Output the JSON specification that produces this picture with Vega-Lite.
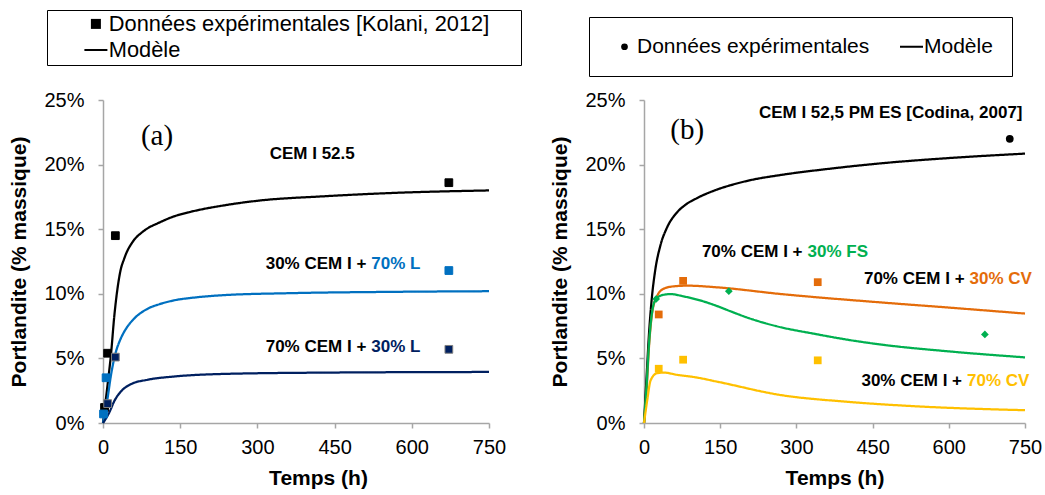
{
  "$schema": "https://vega.github.io/schema/vega-lite/v6.json",
  "background": "white",
  "padding": {"left": 8, "top": 9, "right": 5, "bottom": 2},
  "config": {
    "font": "Liberation Sans",
    "view": {"stroke": null},
    "axis": {"grid": false, "labelFlush": false, "domainColor": "#A6A6A6", "tickColor": "#A6A6A6", "domainWidth": 1.5, "tickWidth": 1.5, "tickSize": 5, "labelFont": "Liberation Sans", "labelFontSize": 20, "labelColor": "black", "titleFont": "Liberation Sans", "titleFontSize": 21, "titleFontWeight": "bold", "titleColor": "black"},
    "axisX": {"labelPadding": 9, "titlePadding": 10},
    "axisY": {"labelPadding": 14, "titlePadding": 14}
  },
  "datasets": {
    "curvesA": [
      {"s": "CEM I 52.5", "t": 0, "v": 0}, {"s": "CEM I 52.5", "t": 9, "v": 3.0}, {"s": "CEM I 52.5", "t": 15.5, "v": 5.3}, {"s": "CEM I 52.5", "t": 22, "v": 8.3}, {"s": "CEM I 52.5", "t": 28.5, "v": 10.5}, {"s": "CEM I 52.5", "t": 34, "v": 11.8}, {"s": "CEM I 52.5", "t": 41, "v": 12.7}, {"s": "CEM I 52.5", "t": 47, "v": 13.3}, {"s": "CEM I 52.5", "t": 54, "v": 13.8}, {"s": "CEM I 52.5", "t": 62, "v": 14.25}, {"s": "CEM I 52.5", "t": 74, "v": 14.7}, {"s": "CEM I 52.5", "t": 88, "v": 15.1}, {"s": "CEM I 52.5", "t": 106, "v": 15.45}, {"s": "CEM I 52.5", "t": 135, "v": 15.95}, {"s": "CEM I 52.5", "t": 171, "v": 16.35}, {"s": "CEM I 52.5", "t": 236, "v": 16.85}, {"s": "CEM I 52.5", "t": 300, "v": 17.2}, {"s": "CEM I 52.5", "t": 430, "v": 17.55}, {"s": "CEM I 52.5", "t": 559, "v": 17.8}, {"s": "CEM I 52.5", "t": 750, "v": 18.0},
      {"s": "70% L", "t": 0, "v": 0}, {"s": "70% L", "t": 9, "v": 1.95}, {"s": "70% L", "t": 15.5, "v": 3.7}, {"s": "70% L", "t": 25, "v": 5.5}, {"s": "70% L", "t": 33, "v": 6.4}, {"s": "70% L", "t": 41, "v": 7.05}, {"s": "70% L", "t": 50, "v": 7.6}, {"s": "70% L", "t": 61, "v": 8.1}, {"s": "70% L", "t": 87, "v": 8.85}, {"s": "70% L", "t": 110, "v": 9.2}, {"s": "70% L", "t": 139, "v": 9.5}, {"s": "70% L", "t": 180, "v": 9.72}, {"s": "70% L", "t": 236, "v": 9.9}, {"s": "70% L", "t": 365, "v": 10.05}, {"s": "70% L", "t": 559, "v": 10.15}, {"s": "70% L", "t": 750, "v": 10.2},
      {"s": "30% L", "t": 0, "v": 0}, {"s": "30% L", "t": 12, "v": 0.8}, {"s": "30% L", "t": 22, "v": 1.7}, {"s": "30% L", "t": 35, "v": 2.45}, {"s": "30% L", "t": 54, "v": 3.0}, {"s": "30% L", "t": 87, "v": 3.35}, {"s": "30% L", "t": 139, "v": 3.6}, {"s": "30% L", "t": 236, "v": 3.8}, {"s": "30% L", "t": 430, "v": 3.9}, {"s": "30% L", "t": 750, "v": 3.95}
    ],
    "ptsA": [
      {"s": "CEM I 52.5", "t": 3, "v": 1.2}, {"s": "CEM I 52.5", "t": 9, "v": 5.4}, {"s": "CEM I 52.5", "t": 24, "v": 14.5}, {"s": "CEM I 52.5", "t": 672, "v": 18.6},
      {"s": "70% L", "t": 1, "v": 0.7}, {"s": "70% L", "t": 6, "v": 3.5}, {"s": "70% L", "t": 672, "v": 11.8},
      {"s": "30% L", "t": 9, "v": 1.5}, {"s": "30% L", "t": 24, "v": 5.1}, {"s": "30% L", "t": 672, "v": 5.7}
    ],
    "annA": [
      {"t": 494, "v": 20.8, "pre": "CEM I 52.5", "post": "", "s": "CEM I 52.5"},
      {"t": 516.5, "v": 12.3, "pre": "30% CEM I +", "post": "70% L", "s": "70% L"},
      {"t": 516.5, "v": 5.9, "pre": "70% CEM I +", "post": "30% L", "s": "30% L"}
    ],
    "labA": [{"t": 105, "v": 22.2, "lab": "(a)"}],
    "curvesB": [
      {"s": "CEM I 52,5 PM ES", "t": 0, "v": 0}, {"s": "CEM I 52,5 PM ES", "t": 5, "v": 3.5}, {"s": "CEM I 52,5 PM ES", "t": 10, "v": 7.0}, {"s": "CEM I 52,5 PM ES", "t": 15, "v": 9.5}, {"s": "CEM I 52,5 PM ES", "t": 22, "v": 11.8}, {"s": "CEM I 52,5 PM ES", "t": 32, "v": 13.7}, {"s": "CEM I 52,5 PM ES", "t": 45, "v": 15.1}, {"s": "CEM I 52,5 PM ES", "t": 65, "v": 16.3}, {"s": "CEM I 52,5 PM ES", "t": 82, "v": 16.9}, {"s": "CEM I 52,5 PM ES", "t": 104, "v": 17.4}, {"s": "CEM I 52,5 PM ES", "t": 139, "v": 18.0}, {"s": "CEM I 52,5 PM ES", "t": 170, "v": 18.4}, {"s": "CEM I 52,5 PM ES", "t": 210, "v": 18.8}, {"s": "CEM I 52,5 PM ES", "t": 270, "v": 19.2}, {"s": "CEM I 52,5 PM ES", "t": 370, "v": 19.7}, {"s": "CEM I 52,5 PM ES", "t": 467, "v": 20.1}, {"s": "CEM I 52,5 PM ES", "t": 598, "v": 20.5}, {"s": "CEM I 52,5 PM ES", "t": 750, "v": 20.85},
      {"s": "30% CV", "t": 0, "v": 0}, {"s": "30% CV", "t": 5, "v": 2.5}, {"s": "30% CV", "t": 10, "v": 6.0}, {"s": "30% CV", "t": 16, "v": 8.5}, {"s": "30% CV", "t": 26, "v": 9.85}, {"s": "30% CV", "t": 39, "v": 10.4}, {"s": "30% CV", "t": 59, "v": 10.58}, {"s": "30% CV", "t": 85, "v": 10.63}, {"s": "30% CV", "t": 144, "v": 10.5}, {"s": "30% CV", "t": 270, "v": 9.98}, {"s": "30% CV", "t": 467, "v": 9.33}, {"s": "30% CV", "t": 598, "v": 8.94}, {"s": "30% CV", "t": 750, "v": 8.47},
      {"s": "30% FS", "t": 0, "v": 0}, {"s": "30% FS", "t": 5, "v": 2.8}, {"s": "30% FS", "t": 10, "v": 6.2}, {"s": "30% FS", "t": 16, "v": 8.6}, {"s": "30% FS", "t": 23, "v": 9.55}, {"s": "30% FS", "t": 36, "v": 9.9}, {"s": "30% FS", "t": 52, "v": 9.98}, {"s": "30% FS", "t": 78, "v": 9.8}, {"s": "30% FS", "t": 118, "v": 9.4}, {"s": "30% FS", "t": 144, "v": 9.05}, {"s": "30% FS", "t": 170, "v": 8.65}, {"s": "30% FS", "t": 204, "v": 8.15}, {"s": "30% FS", "t": 260, "v": 7.5}, {"s": "30% FS", "t": 336, "v": 6.9}, {"s": "30% FS", "t": 400, "v": 6.45}, {"s": "30% FS", "t": 467, "v": 6.07}, {"s": "30% FS", "t": 598, "v": 5.55}, {"s": "30% FS", "t": 750, "v": 5.08},
      {"s": "70% CV", "t": 0, "v": 0}, {"s": "70% CV", "t": 6.5, "v": 1.8}, {"s": "70% CV", "t": 13, "v": 3.3}, {"s": "70% CV", "t": 26, "v": 3.86}, {"s": "70% CV", "t": 39, "v": 3.9}, {"s": "70% CV", "t": 65, "v": 3.73}, {"s": "70% CV", "t": 104, "v": 3.52}, {"s": "70% CV", "t": 144, "v": 3.2}, {"s": "70% CV", "t": 270, "v": 2.16}, {"s": "70% CV", "t": 401, "v": 1.64}, {"s": "70% CV", "t": 532, "v": 1.3}, {"s": "70% CV", "t": 750, "v": 0.99}
    ],
    "ptsB": [
      {"s": "CEM I 52,5 PM ES", "t": 720, "v": 22.0},
      {"s": "30% CV", "t": 29, "v": 8.4}, {"s": "30% CV", "t": 77, "v": 11.0}, {"s": "30% CV", "t": 342, "v": 10.9},
      {"s": "70% CV", "t": 29, "v": 4.2}, {"s": "70% CV", "t": 77, "v": 4.9}, {"s": "70% CV", "t": 342, "v": 4.85},
      {"s": "30% FS", "t": 24, "v": 9.6}, {"s": "30% FS", "t": 167, "v": 10.2}, {"s": "30% FS", "t": 671, "v": 6.85}
    ],
    "annB": [
      {"t": 750, "v": 24.0, "pre": "CEM I 52,5 PM ES [Codina, 2007]", "post": "", "s": "CEM I 52,5 PM ES"},
      {"t": 317, "v": 13.2, "pre": "70% CEM I +", "post": "30% FS", "s": "30% FS"},
      {"t": 636, "v": 11.15, "pre": "70% CEM I +", "post": "30% CV", "s": "30% CV"},
      {"t": 631, "v": 3.26, "pre": "30% CEM I +", "post": "70% CV", "s": "70% CV"}
    ],
    "labB": [{"t": 85, "v": 22.7, "lab": "(b)"}]
  },
  "spacing": 155,
  "bounds": "flush",
  "resolve": {
    "scale": {"x": "independent", "y": "independent", "color": "independent", "stroke": "independent", "shape": "independent", "strokeDash": "independent"},
    "legend": {"strokeDash": "independent"}
  },
  "hconcat": [
    {
      "width": 386,
      "height": 323,
      "encoding": {
        "x": {"field": "t", "type": "quantitative", "scale": {"domain": [0, 750], "nice": false}, "axis": {"values": [0, 150, 300, 450, 600, 750], "title": "Temps (h)", "titleX": 215}},
        "y": {"field": "v", "type": "quantitative", "scale": {"domain": [0, 25], "nice": false}, "axis": {"values": [0, 5, 10, 15, 20, 25], "labelExpr": "datum.value + '%'", "title": "Portlandite (% massique)"}}
      },
      "layer": [
        {
          "data": {"name": "curvesA"},
          "mark": {"type": "line", "strokeWidth": 2.25, "interpolate": "monotone"},
          "encoding": {
            "color": {"field": "s", "type": "nominal", "scale": {"domain": ["CEM I 52.5", "70% L", "30% L"], "range": ["#000000", "#0070C0", "#002060"]}, "legend": null},
            "strokeDash": {"datum": "Modèle", "type": "nominal", "scale": {"domain": ["Données expérimentales [Kolani, 2012]", "Modèle"], "range": [[1, 0], [1, 0]]},
              "legend": {"orient": "none", "legendX": -56, "legendY": -90, "direction": "vertical", "title": " ", "titleOrient": "right", "titlePadding": 29, "titleFontSize": 21,
                "padding": 3, "strokeColor": "black", "fillColor": "white",
                "labelFont": "Liberation Sans", "labelFontSize": 21.8, "labelColor": "black", "labelLimit": 600, "labelOffset": 2,
                "symbolSize": 529, "symbolStrokeWidth": 2, "symbolOffset": 35, "rowPadding": 3,
                "encode": {"symbols": {"update": {
                  "shape": {"signal": "datum.value === 'Modèle' ? 'stroke' : 'square'"},
                  "size": {"signal": "datum.value === 'Modèle' ? 529 : 100"},
                  "fill": {"value": "black"}, "stroke": {"value": "black"},
                  "strokeWidth": {"signal": "datum.value === 'Modèle' ? 2 : 0"},
                  "strokeDash": {"value": []}, "opacity": {"value": 1}}}}}}
          }
        },
        {
          "data": {"name": "ptsA"},
          "mark": {"type": "point", "filled": true, "shape": "square", "size": 60, "opacity": 1, "strokeWidth": 1},
          "encoding": {
            "color": {"field": "s", "type": "nominal", "scale": {"domain": ["CEM I 52.5", "70% L", "30% L"], "range": ["#000000", "#0070C0", "#002060"]}, "legend": null},
            "stroke": {"field": "s", "type": "nominal", "scale": {"domain": ["CEM I 52.5", "70% L", "30% L"], "range": ["#000000", "#0070C0", "#7F7F7F"]}, "legend": null}
          }
        },
        {
          "data": {"name": "annA"},
          "mark": {"type": "text", "align": "right", "dx": -2.5, "fontWeight": "bold", "fontSize": 17, "font": "Liberation Sans", "color": "black"},
          "encoding": {"text": {"field": "pre"}}
        },
        {
          "data": {"name": "annA"},
          "mark": {"type": "text", "align": "left", "dx": 2.5, "fontWeight": "bold", "fontSize": 17, "font": "Liberation Sans"},
          "encoding": {
            "text": {"field": "post"},
            "color": {"field": "s", "type": "nominal", "scale": {"domain": ["CEM I 52.5", "70% L", "30% L"], "range": ["#000000", "#0070C0", "#002060"]}, "legend": null}
          }
        },
        {
          "data": {"name": "labA"},
          "mark": {"type": "text", "align": "center", "font": "Liberation Serif", "fontSize": 29, "color": "black"},
          "encoding": {"text": {"field": "lab"}}
        }
      ]
    },
    {
      "width": 381,
      "height": 323,
      "encoding": {
        "x": {"field": "t", "type": "quantitative", "scale": {"domain": [0, 750], "nice": false}, "axis": {"values": [0, 150, 300, 450, 600, 750], "title": "Temps (h)"}},
        "y": {"field": "v", "type": "quantitative", "scale": {"domain": [0, 25], "nice": false}, "axis": {"values": [0, 5, 10, 15, 20, 25], "labelExpr": "datum.value + '%'", "title": "Portlandite (% massique)"}}
      },
      "layer": [
        {
          "data": {"name": "curvesB"},
          "mark": {"type": "line", "strokeWidth": 2.25, "interpolate": "monotone"},
          "encoding": {
            "color": {"field": "s", "type": "nominal", "scale": {"domain": ["CEM I 52,5 PM ES", "30% CV", "30% FS", "70% CV"], "range": ["#000000", "#E46C0A", "#00B050", "#FFC000"]}, "legend": null},
            "strokeDash": {"datum": "Modèle", "type": "nominal", "scale": {"domain": ["Données expérimentales", "Modèle"], "range": [[1, 0], [1, 0]]},
              "legend": {"orient": "none", "legendX": -55, "legendY": -83, "direction": "horizontal", "columns": 2, "title": " ", "titleOrient": "right", "titlePadding": 0, "titleFontSize": 21,
                "padding": 19, "strokeColor": "black", "fillColor": "white",
                "labelFont": "Liberation Sans", "labelFontSize": 21, "labelColor": "black", "labelLimit": 600, "labelOffset": 2,
                "symbolSize": 529, "symbolStrokeWidth": 2, "symbolOffset": 6, "columnPadding": 25,
                "encode": {"symbols": {"update": {
                  "shape": {"signal": "datum.value === 'Modèle' ? 'stroke' : 'circle'"},
                  "size": {"signal": "datum.value === 'Modèle' ? 529 : 45"},
                  "fill": {"value": "black"}, "stroke": {"value": "black"},
                  "strokeWidth": {"signal": "datum.value === 'Modèle' ? 2 : 0"},
                  "strokeDash": {"value": []}, "opacity": {"value": 1}}}}}}
          }
        },
        {
          "data": {"name": "ptsB"},
          "mark": {"type": "point", "filled": true, "size": 60, "opacity": 1},
          "encoding": {
            "color": {"field": "s", "type": "nominal", "scale": {"domain": ["CEM I 52,5 PM ES", "30% CV", "30% FS", "70% CV"], "range": ["#000000", "#E46C0A", "#00B050", "#FFC000"]}, "legend": null},
            "shape": {"field": "s", "type": "nominal", "scale": {"domain": ["CEM I 52,5 PM ES", "30% CV", "30% FS", "70% CV"], "range": ["circle", "square", "diamond", "square"]}, "legend": null}
          }
        },
        {
          "data": {"name": "annB"},
          "mark": {"type": "text", "align": "right", "dx": -2.5, "fontWeight": "bold", "fontSize": 17, "font": "Liberation Sans", "color": "black"},
          "encoding": {"text": {"field": "pre"}}
        },
        {
          "data": {"name": "annB"},
          "mark": {"type": "text", "align": "left", "dx": 2.5, "fontWeight": "bold", "fontSize": 17, "font": "Liberation Sans"},
          "encoding": {
            "text": {"field": "post"},
            "color": {"field": "s", "type": "nominal", "scale": {"domain": ["CEM I 52,5 PM ES", "30% CV", "30% FS", "70% CV"], "range": ["#000000", "#E46C0A", "#00B050", "#FFC000"]}, "legend": null}
          }
        },
        {
          "data": {"name": "labB"},
          "mark": {"type": "text", "align": "center", "font": "Liberation Serif", "fontSize": 29, "color": "black"},
          "encoding": {"text": {"field": "lab"}}
        }
      ]
    }
  ]
}
